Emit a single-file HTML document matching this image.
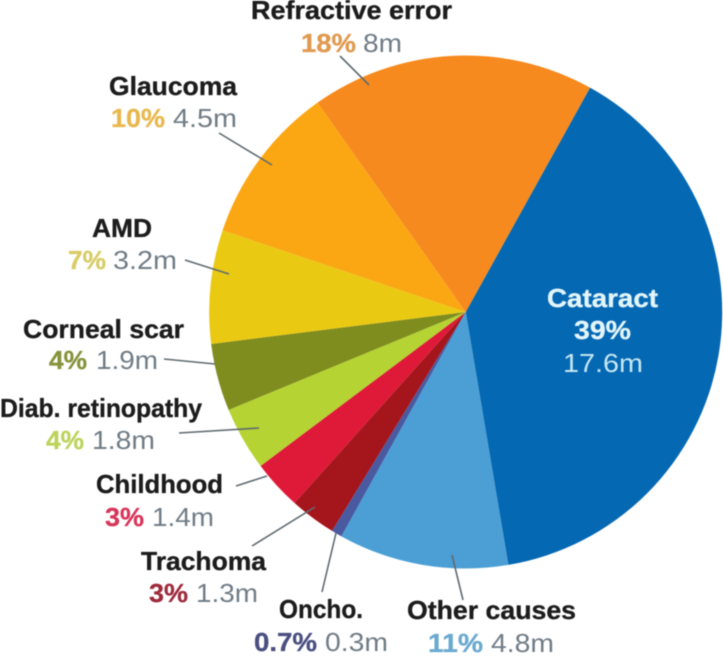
<!DOCTYPE html>
<html lang="en">
<head>
<meta charset="utf-8">
<title>Causes of blindness</title>
<style>
html,body{margin:0;padding:0;background:#fff;}
svg{display:block;filter:blur(0.4px);}
text{font-family:"Liberation Sans",sans-serif;}
.name{font-weight:700;font-size:26px;fill:#1c1c1c;stroke:#1c1c1c;stroke-width:0.35px;}
.pct{font-weight:700;font-size:26px;stroke-width:0.3px;}
.val{font-weight:400;font-size:26px;fill:#707c86;}
.lead{stroke:#5f6a70;stroke-width:1.6;fill:none;}
</style>
</head>
<body>
<svg id="chart" width="723" height="659" viewBox="0 0 723 659" xmlns="http://www.w3.org/2000/svg">
  <g id="slices"></g>

  <g>
    <line class="lead" x1="340" y1="56" x2="369" y2="85"/>
    <line class="lead" x1="219" y1="133" x2="272" y2="165"/>
    <line class="lead" x1="185" y1="260" x2="229" y2="274"/>
    <line class="lead" x1="164" y1="359" x2="215" y2="364"/>
    <line class="lead" x1="179" y1="433" x2="259" y2="428"/>
    <line class="lead" x1="236" y1="486" x2="267" y2="476"/>
    <line class="lead" x1="252" y1="546" x2="315" y2="507"/>
    <line class="lead" x1="322" y1="592" x2="336" y2="533"/>
    <line class="lead" x1="452" y1="555" x2="463" y2="600"/>
  </g>

  <g>
    <text class="name" x="251" y="19" textLength="201" lengthAdjust="spacingAndGlyphs">Refractive error</text>
    <text class="pct" x="301" y="52" textLength="55" lengthAdjust="spacingAndGlyphs" fill="#e09a50" stroke="#e09a50">18%</text>
    <text class="val" x="363" y="52" textLength="39" lengthAdjust="spacingAndGlyphs">8m</text>
  </g>
  <g>
    <text class="name" x="109" y="95" textLength="128" lengthAdjust="spacingAndGlyphs">Glaucoma</text>
    <text class="pct" x="111" y="127" textLength="54" lengthAdjust="spacingAndGlyphs" fill="#e8b84e" stroke="#e8b84e">10%</text>
    <text class="val" x="173" y="127" textLength="64" lengthAdjust="spacingAndGlyphs">4.5m</text>
  </g>
  <g>
    <text class="name" x="92" y="237" textLength="60" lengthAdjust="spacingAndGlyphs">AMD</text>
    <text class="pct" x="68" y="269" textLength="38" lengthAdjust="spacingAndGlyphs" fill="#d8cc66" stroke="#d8cc66">7%</text>
    <text class="val" x="113" y="269" textLength="64" lengthAdjust="spacingAndGlyphs">3.2m</text>
  </g>
  <g>
    <text class="name" x="23" y="338" textLength="161" lengthAdjust="spacingAndGlyphs">Corneal scar</text>
    <text class="pct" x="49" y="369" textLength="38" lengthAdjust="spacingAndGlyphs" fill="#86933a" stroke="#86933a">4%</text>
    <text class="val" x="96" y="369" textLength="62" lengthAdjust="spacingAndGlyphs">1.9m</text>
  </g>
  <g>
    <text class="name" x="0" y="417" textLength="202" lengthAdjust="spacingAndGlyphs">Diab. retinopathy</text>
    <text class="pct" x="46" y="449" textLength="38" lengthAdjust="spacingAndGlyphs" fill="#bcd35c" stroke="#bcd35c">4%</text>
    <text class="val" x="92" y="449" textLength="63" lengthAdjust="spacingAndGlyphs">1.8m</text>
  </g>
  <g>
    <text class="name" x="96" y="493" textLength="127" lengthAdjust="spacingAndGlyphs">Childhood</text>
    <text class="pct" x="105" y="526" textLength="39" lengthAdjust="spacingAndGlyphs" fill="#d8355a" stroke="#d8355a">3%</text>
    <text class="val" x="152" y="526" textLength="62" lengthAdjust="spacingAndGlyphs">1.4m</text>
  </g>
  <g>
    <text class="name" x="141" y="570" textLength="125" lengthAdjust="spacingAndGlyphs">Trachoma</text>
    <text class="pct" x="149" y="602" textLength="39" lengthAdjust="spacingAndGlyphs" fill="#9e2a3c" stroke="#9e2a3c">3%</text>
    <text class="val" x="196" y="602" textLength="62" lengthAdjust="spacingAndGlyphs">1.3m</text>
  </g>
  <g>
    <text class="name" x="279" y="618" textLength="84" lengthAdjust="spacingAndGlyphs">Oncho.</text>
    <text class="pct" x="254" y="651" textLength="63" lengthAdjust="spacingAndGlyphs" fill="#4a4f80" stroke="#4a4f80">0.7%</text>
    <text class="val" x="325" y="651" textLength="63" lengthAdjust="spacingAndGlyphs">0.3m</text>
  </g>
  <g>
    <text class="name" x="407" y="619" textLength="169" lengthAdjust="spacingAndGlyphs">Other causes</text>
    <text class="pct" x="428" y="652" textLength="55" lengthAdjust="spacingAndGlyphs" fill="#6aa9d0" stroke="#6aa9d0">11%</text>
    <text class="val" x="491" y="652" textLength="63" lengthAdjust="spacingAndGlyphs">4.8m</text>
  </g>
  <g>
    <text class="name" x="547" y="307" textLength="111" lengthAdjust="spacingAndGlyphs" style="fill:#e2f5fa;stroke:#e2f5fa">Cataract</text>
    <text class="pct" x="574" y="339" textLength="57" lengthAdjust="spacingAndGlyphs" fill="#e2f5fa" stroke="#e2f5fa">39%</text>
    <text class="val" x="563" y="372" textLength="80" lengthAdjust="spacingAndGlyphs" style="fill:#c4e7f3">17.6m</text>
  </g>
</svg>

<script>
// Data: clockwise from the top-right edge of the Cataract slice
const categories = ["Cataract", "Other causes", "Oncho.", "Trachoma", "Childhood", "Diab. retinopathy", "Corneal scar", "AMD", "Glaucoma", "Refractive error"];
const millions = [17.6, 4.8, 0.3, 1.3, 1.4, 1.8, 1.9, 3.2, 4.5, 8];
const sliceColors = ["#0568b3", "#4b9fd5", "#4a5aa0", "#a5151c", "#de1a38", "#b5d333", "#7f8c1e", "#eac913", "#fba714", "#f68a1e"];

// Pie geometry
const cx = 465.7, cy = 312, radius = 256.5, startDeg = 29;
const total = millions.reduce(function (a, b) { return a + b; }, 0);

function angleOf(cumulative) {
  return (startDeg + cumulative / total * 360) * Math.PI / 180;
}
function pointAt(angle) {
  return [cx + radius * Math.sin(angle), cy - radius * Math.cos(angle)];
}

const group = document.getElementById('slices');
let running = 0;
millions.forEach(function (value, i) {
  const a0 = angleOf(running);
  running += value;
  const a1 = angleOf(running);
  const p0 = pointAt(a0);
  const p1 = pointAt(a1);
  const large = (a1 - a0) > Math.PI ? 1 : 0;
  const el = document.createElementNS('http://www.w3.org/2000/svg', 'path');
  el.setAttribute('d', 'M' + cx + ' ' + cy + ' L' + p0[0] + ' ' + p0[1] + ' A' + radius + ' ' + radius + ' 0 ' + large + ' 1 ' + p1[0] + ' ' + p1[1] + ' Z');
  el.setAttribute('fill', sliceColors[i]);
  
  
  group.appendChild(el);
});
</script>
</body>
</html>
